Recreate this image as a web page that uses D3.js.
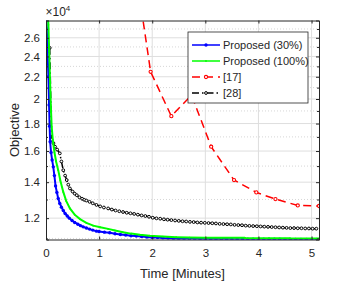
<!DOCTYPE html>
<html>
<head>
  <meta charset="utf-8">
  <script src="https://d3js.org/d3.v7.min.js"></script>
  <style>
    body { margin: 0; background: #fff; }
    text { font-family: "Liberation Sans", Arial, sans-serif; fill: #262626; }
  </style>
</head>
<body>
<script>
// legend labels and ticks (objective in units of 10^4)
var seriesNames = ["Proposed (30%)", "Proposed (100%)", "[17]", "[28]"];
var xTicks = [0, 1, 2, 3, 4, 5];
var yTicks = [1.2, 1.4, 1.6, 1.8, 2, 2.2, 2.4, 2.6];
var yMinor = [1.1, 1.3, 1.5, 1.7, 1.9, 2.1, 2.3, 2.5, 2.7];

// Proposed (30%)
var timeP30 = [0, 0.015, 0.03, 0.045, 0.058, 0.068, 0.078, 0.095, 0.115, 0.137, 0.158, 0.18, 0.205, 0.23, 0.26,
  0.29, 0.325, 0.36, 0.4, 0.44, 0.49, 0.54, 0.6, 0.65, 0.7, 0.76, 0.82, 0.88, 0.95,
  1.0, 1.1, 1.2, 1.3, 1.4, 1.5, 1.6, 1.7, 1.8, 1.9, 2.0, 2.1, 2.2, 2.3, 2.4, 2.5, 2.6, 2.7, 2.8, 2.9,
  3.0, 3.1, 3.2, 3.3, 3.4, 3.5, 3.6, 3.7, 3.8, 3.9, 4.0, 4.1, 4.2, 4.3, 4.4, 4.5, 4.6, 4.7, 4.8, 4.9, 5.0, 5.1];
var objP30 = [3.0, 2.7, 2.45, 2.2, 1.95, 1.78, 1.665, 1.59, 1.54, 1.495, 1.44, 1.378, 1.34, 1.305, 1.278,
  1.258, 1.24, 1.224, 1.211, 1.2, 1.188, 1.178, 1.169, 1.162, 1.156, 1.15, 1.145, 1.14, 1.135,
  1.133, 1.13, 1.127, 1.122, 1.119, 1.116, 1.113, 1.111, 1.109, 1.107, 1.105, 1.104, 1.102, 1.101, 1.1, 1.099, 1.099, 1.098, 1.098, 1.0975,
  1.097, 1.097, 1.097, 1.097, 1.0968, 1.0966, 1.0965, 1.0965, 1.0963, 1.0962, 1.096, 1.096, 1.096, 1.096, 1.096, 1.0958, 1.0957, 1.0956, 1.0956, 1.0955, 1.0955, 1.0955];

// Proposed (100%)
var timeP100 = [0.03, 0.045, 0.06, 0.075, 0.09, 0.107, 0.13, 0.16, 0.19, 0.23, 0.27, 0.325, 0.38, 0.45, 0.54,
  0.64, 0.76, 0.89, 1.02, 1.17, 1.3, 1.45, 1.6, 1.77, 1.95, 2.2, 2.45, 2.7, 3.0, 3.3, 3.74, 3.75, 4.2, 4.59, 4.6, 5.14];
var objP100 = [3.0, 2.75, 2.45, 2.18, 1.95, 1.775, 1.67, 1.59, 1.53, 1.474, 1.41, 1.343, 1.292, 1.251, 1.218,
  1.195, 1.176, 1.162, 1.154, 1.146, 1.138, 1.13, 1.123, 1.117, 1.113, 1.109, 1.106, 1.104, 1.103, 1.103, 1.103, 1.1015, 1.101, 1.1005, 1.0995, 1.0995];

// [17]
var time17 = [1.58, 1.97, 2.36, 2.74, 3.11, 3.54, 3.96, 4.32, 4.74, 5.14];
var obj17 = [4.1, 2.247, 1.858, 2.034, 1.63, 1.413, 1.34, 1.302, 1.267, 1.264];

// [28]
var time28 = [0.07, 0.105, 0.14, 0.17, 0.21, 0.26, 0.29, 0.325, 0.36, 0.39, 0.42, 0.45, 0.5, 0.54, 0.58, 0.63,
  0.68, 0.72, 0.76, 0.82, 0.88, 0.95, 1.02, 1.09, 1.17, 1.24, 1.31, 1.38, 1.45, 1.52, 1.59, 1.66, 1.73, 1.8,
  1.87, 1.94, 2.01, 2.08, 2.15, 2.22, 2.29, 2.36, 2.43, 2.5, 2.57, 2.64, 2.71, 2.78, 2.85, 2.92, 2.99,
  3.06, 3.13, 3.2, 3.27, 3.34, 3.41, 3.48, 3.55, 3.62, 3.69, 3.76, 3.83, 3.9, 3.97, 4.04, 4.11, 4.18,
  4.25, 4.32, 4.39, 4.46, 4.53, 4.6, 4.67, 4.74, 4.81, 4.88, 4.95, 5.02, 5.09];
var obj28 = [2.49, 1.68, 1.655, 1.63, 1.61, 1.584, 1.53, 1.474, 1.44, 1.413, 1.385, 1.363, 1.345, 1.333, 1.324, 1.312,
  1.304, 1.298, 1.294, 1.287, 1.279, 1.27, 1.262, 1.256, 1.251, 1.245, 1.24, 1.236, 1.232, 1.228, 1.225, 1.222, 1.218, 1.214,
  1.211, 1.207, 1.202, 1.199, 1.197, 1.194, 1.192, 1.19, 1.188, 1.186, 1.184, 1.183, 1.181, 1.18, 1.178, 1.177, 1.176,
  1.175, 1.174, 1.173, 1.171, 1.17, 1.169, 1.168, 1.166, 1.165, 1.164, 1.162, 1.161, 1.16, 1.159, 1.158, 1.157, 1.156,
  1.155, 1.154, 1.153, 1.152, 1.151, 1.15, 1.15, 1.149, 1.149, 1.148, 1.148, 1.147, 1.147];

var W = 352, H = 283;
var pL = 46, pT = 20.5, pR = 319, pB = 239.5;

var svg = d3.select("body").append("svg").attr("width", W).attr("height", H);

var x = d3.scaleLinear().domain([0, 5.14]).range([pL, pR]);
var y = d3.scaleLog().domain([1.095, 2.8]).range([pB, pT]);

// grid: minor dotted, major solid
svg.append("g").selectAll("line").data(yMinor).enter().append("line")
  .attr("x1", pL).attr("x2", pR)
  .attr("y1", function (d) { return y(d); }).attr("y2", function (d) { return y(d); })
  .attr("stroke", "#c4c4c4").attr("stroke-width", 0.7).attr("stroke-dasharray", "1,2");
svg.append("g").selectAll("line").data(yTicks).enter().append("line")
  .attr("x1", pL).attr("x2", pR)
  .attr("y1", function (d) { return y(d); }).attr("y2", function (d) { return y(d); })
  .attr("stroke", "#dedede").attr("stroke-width", 1);
svg.append("g").selectAll("line").data(xTicks.slice(1)).enter().append("line")
  .attr("y1", pT).attr("y2", pB)
  .attr("x1", function (d) { return x(d); }).attr("x2", function (d) { return x(d); })
  .attr("stroke", "#dedede").attr("stroke-width", 1);

svg.append("clipPath").attr("id", "clip").append("rect")
  .attr("x", pL).attr("y", pT).attr("width", pR - pL).attr("height", pB - pT);

var plot = svg.append("g").attr("clip-path", "url(#clip)");
var line = d3.line().x(function (d) { return x(d[0]); }).y(function (d) { return y(d[1]); });

var series = [
  { pts: d3.zip(time28, obj28), color: "#000", width: 1.5, dash: "7,3,1.5,3", r: 1.4, fill: "#fff", sw: 1 },
  { pts: d3.zip(time17, obj17), color: "#f00", width: 1.5, dash: "8,5", r: 1.6, fill: "#fff", sw: 1.1 },
  { pts: d3.zip(timeP100, objP100), color: "#0f0", width: 2, dash: null, r: 0.9, fill: "#0f0", sw: 0 },
  { pts: d3.zip(timeP30, objP30), color: "#00f", width: 2, dash: null, r: 1.7, fill: "#00f", sw: 0 }
];
// blue under green where they overlap at the end
var order = [0, 1, 3, 2];

order.forEach(function (i) {
  var s = series[i];
  plot.append("path").datum(s.pts)
    .attr("d", line).attr("fill", "none")
    .attr("stroke", s.color).attr("stroke-width", s.width)
    .attr("stroke-dasharray", s.dash);
  plot.append("g").selectAll("circle").data(s.pts).enter().append("circle")
    .attr("cx", function (d) { return x(d[0]); })
    .attr("cy", function (d) { return y(d[1]); })
    .attr("r", s.r).attr("fill", s.fill)
    .attr("stroke", s.color).attr("stroke-width", s.sw);
});

// axes with inward ticks on all four sides
var axColor = "#262626";
var xb = svg.append("g").attr("transform", "translate(0," + pB + ")")
  .call(d3.axisBottom(x).tickValues(xTicks).tickSize(-3).tickPadding(9).tickFormat(d3.format("d")));
var xt = svg.append("g").attr("transform", "translate(0," + pT + ")")
  .call(d3.axisTop(x).tickValues(xTicks).tickSize(-3).tickFormat(""));
var yl = svg.append("g").attr("transform", "translate(" + pL + ",0)")
  .call(d3.axisLeft(y).tickValues(yTicks).tickSize(-3).tickPadding(6).tickFormat(function (d) { return d3.format("~g")(d); }));
var yr = svg.append("g").attr("transform", "translate(" + pR + ",0)")
  .call(d3.axisRight(y).tickValues(yTicks).tickSize(-3).tickFormat(""));
var ylm = svg.append("g").attr("transform", "translate(" + pL + ",0)")
  .call(d3.axisLeft(y).tickValues(yMinor).tickSize(-2).tickFormat(""));
var yrm = svg.append("g").attr("transform", "translate(" + pR + ",0)")
  .call(d3.axisRight(y).tickValues(yMinor).tickSize(-2).tickFormat(""));

[xb, xt, yl, yr, ylm, yrm].forEach(function (g) {
  g.selectAll("path").attr("stroke", axColor);
  g.selectAll("line").attr("stroke", axColor);
  g.selectAll("text").style("font-family", "Liberation Sans, Arial, sans-serif")
    .style("font-size", "11.5px").attr("fill", axColor);
});
ylm.select("path").remove();
yrm.select("path").remove();

// exponent label
var ex = svg.append("text").attr("x", 45.5).attr("y", 16).style("font-size", "12px");
ex.append("tspan").text("\u00d710");
ex.append("tspan").attr("dy", -5).style("font-size", "8px").text("4");

svg.append("text")
  .attr("x", (pL + pR) / 2).attr("y", 278)
  .attr("text-anchor", "middle").style("font-size", "13px")
  .text("Time [Minutes]");
svg.append("text")
  .attr("transform", "translate(19," + (pT + pB) / 2 + ") rotate(-90)")
  .attr("text-anchor", "middle").style("font-size", "13px")
  .text("Objective");

// legend
var lg = svg.append("g").attr("transform", "translate(188,32)");
lg.append("rect").attr("width", 120).attr("height", 71)
  .attr("fill", "#fff").attr("stroke", axColor).attr("stroke-width", 0.8);
var legendSeries = [3, 2, 1, 0];
legendSeries.forEach(function (si, i) {
  var s = series[si];
  var cy = 13 + i * 16;
  lg.append("line").attr("x1", 4).attr("x2", 32).attr("y1", cy).attr("y2", cy)
    .attr("stroke", s.color).attr("stroke-width", s.width === 2 ? 1.5 : 1.3)
    .attr("stroke-dasharray", s.dash);
  lg.append("circle").attr("cx", 18).attr("cy", cy).attr("r", s.r)
    .attr("fill", s.fill).attr("stroke", s.color).attr("stroke-width", s.sw);
  lg.append("text").attr("x", 35).attr("y", cy).attr("dy", "0.35em")
    .style("font-size", "11px").attr("fill", "#000").text(seriesNames[i]);
});
</script>
</body>
</html>
